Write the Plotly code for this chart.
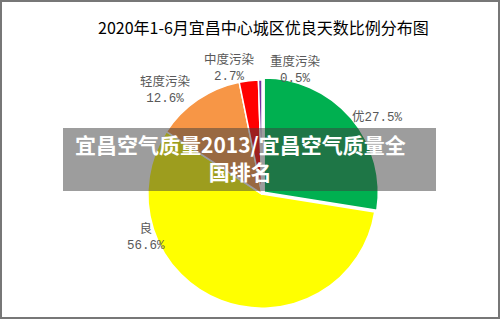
import plotly.graph_objects as go

title = "2020年1-6月宜昌中心城区优良天数比例分布图"
categories = ["优", "良", "轻度污染", "中度污染", "重度污染"]
values = [27.5, 56.6, 12.6, 2.7, 0.5]
colors = ["#00B050", "#FFFF00", "#F79646", "#FF0000", "#7030A0"]
banner_text = "宜昌空气质量2013/宜昌空气质量全<br>国排名"

W, H = 500, 319
cx, cy, r = 262, 194, 117

fig = go.Figure()
fig.add_trace(go.Pie(
    labels=categories, values=values, sort=False, direction="clockwise",
    rotation=0, marker=dict(colors=colors, line=dict(color="white", width=1.5)),
    textinfo="none", hoverinfo="label+percent", showlegend=False,
    pull=[0.025, 0, 0, 0, 0],
    domain=dict(x=[(cx - r) / W, (cx + r) / W], y=[(H - cy - r) / H, (H - cy + r) / H]),
))

# label positions (pixel centres) for each category
label_pos = [(377, 118), (146, 237), (165, 90), (229, 68), (295, 70)]
lab_font = dict(family="Liberation Mono, Noto Sans CJK SC", size=12.5, color="#595959")
for cat, val, (px, py) in zip(categories, values, label_pos):
    txt = f"{cat}{val}%" if cat == "优" else f"{cat}<br>{val}%"
    fig.add_annotation(x=px / W, y=1 - py / H, xref="paper", yref="paper",
                       text=txt, showarrow=False, font=lab_font,
                       xanchor="center", yanchor="middle", align="center")

fig.add_annotation(x=263 / W, y=1 - 27 / H, xref="paper", yref="paper", text=title,
                   showarrow=False, xanchor="center", yanchor="middle",
                   font=dict(family="Noto Sans CJK SC", size=16, color="#000000"))

# overlay banner
fig.add_shape(type="rect", xref="paper", yref="paper",
              x0=63 / W, x1=436 / W, y0=1 - 191 / H, y1=1 - 128 / H,
              fillcolor="rgba(60,60,60,0.5)", line=dict(width=0), layer="above")
fig.add_annotation(x=240 / W, y=1 - 158 / H, xref="paper", yref="paper", text=banner_text,
                   showarrow=False, xanchor="center", yanchor="middle", align="center",
                   font=dict(family="Noto Sans CJK SC", size=21, color="white", weight="bold"))

# border
fig.add_shape(type="rect", xref="paper", yref="paper", x0=0.002, x1=0.998, y0=0.003, y1=0.997,
              line=dict(color="#777777", width=2), layer="above")

fig.update_layout(width=W, height=H, margin=dict(l=0, r=0, t=0, b=0),
                  paper_bgcolor="white", plot_bgcolor="white")
fig.write_html("out.html")
